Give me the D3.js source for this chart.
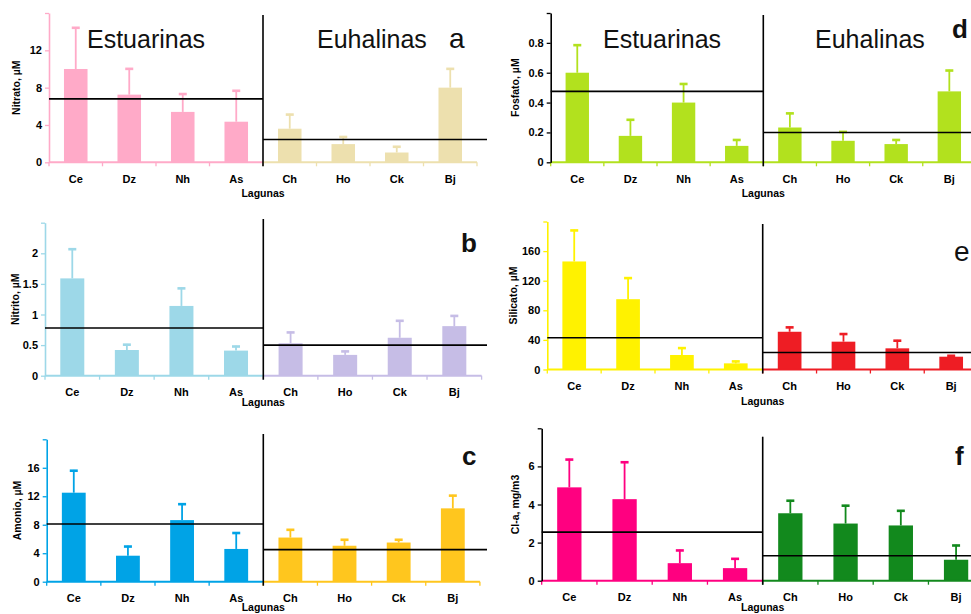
<!DOCTYPE html>
<html><head><meta charset="utf-8">
<script src="https://cdn.jsdelivr.net/npm/d3@7"></script>
<style>
body{margin:0;background:#fff}
svg{display:block}
text{font-family:"Liberation Sans",Arial,Helvetica,sans-serif}
</style>
</head><body>
<svg id="chart" width="971" height="614"></svg>
<script>
// ---------- DATA ----------
const lagunas = ["Ce","Dz","Nh","As","Ch","Ho","Ck","Bj"];
const grupos = ["Estuarinas","Euhalinas"];

const nitrato      = [10.0, 7.25, 5.4, 4.35, 3.6, 1.95, 1.05, 8.0];
const nitratoDE    = [4.5, 2.85, 2.0, 3.4, 1.6, 0.85, 0.7, 2.1];
const nitratoMedia = [6.8, 2.45];
const nitratoTicks = [0, 4, 8, 12, 16];

const nitrito      = [1.59, 0.42, 1.14, 0.41, 0.53, 0.34, 0.62, 0.81];
const nitritoDE    = [0.49, 0.10, 0.30, 0.08, 0.19, 0.07, 0.29, 0.18];
const nitritoMedia = [0.78, 0.5];
const nitritoTicks = [0, 0.5, 1, 1.5, 2, 2.5];

const amonio       = [12.5, 3.65, 8.65, 4.6, 6.2, 5.05, 5.5, 10.3];
const amonioDE     = [3.2, 1.4, 2.35, 2.35, 1.2, 0.95, 0.5, 1.9];
const amonioMedia  = [8.1, 4.5];
const amonioTicks  = [0, 4, 8, 12, 16, 20];

const fosfato      = [0.60, 0.177, 0.40, 0.11, 0.233, 0.144, 0.122, 0.475];
const fosfatoDE    = [0.19, 0.113, 0.13, 0.045, 0.10, 0.065, 0.033, 0.145];
const fosfatoMedia = [0.475, 0.2];
const fosfatoTicks = [0, 0.2, 0.4, 0.6, 0.8, 1];

const silicato      = [146, 95, 19.6, 8.3, 51, 37.6, 28.6, 17.3];
const silicatoDE    = [43, 29.6, 10.4, 3.7, 7, 11.4, 11.4, 2.3];
const silicatoMedia = [43, 23];
const silicatoTicks = [0, 40, 80, 120, 160, 200];

const cla      = [4.9, 4.28, 0.92, 0.66, 3.54, 3.0, 2.9, 1.1];
const claDE    = [1.5, 1.98, 0.71, 0.53, 0.70, 0.98, 0.81, 0.79];
const claMedia = [2.55, 1.31];
const claTicks = [0, 2, 4, 6, 8];

// ---------- PANELS (data refs + layout/style) ----------
const panels = [
  {letter:"a", ylab:"Nitrato, \u00b5M", v:nitrato, e:nitratoDE, m:nitratoMedia, t:nitratoTicks,
   c:["#ffaac8","#ede0ae"], axisC:"#ffaac8",
   x0:49, div:263, yTop:13, yBase:162.3, lineEnd:487, divTop:15, ylabX:16,
   titles:true, tEst:87, tEuh:317, letX:449, letY:48, letSize:28, letW:"normal", lagY:197},
  {letter:"b", ylab:"Nitrito, \u00b5M", v:nitrito, e:nitritoDE, m:nitritoMedia, t:nitritoTicks,
   c:["#9dd8e8","#c6bde6"], axisC:"#9dd8e8",
   x0:45, div:263.3, yTop:222.7, yBase:375.7, lineEnd:487, divTop:219, ylabX:15,
   titles:false, letX:461, letY:252, letSize:26, letW:"bold", lagY:406},
  {letter:"c", ylab:"Amonio, \u00b5M", v:amonio, e:amonioDE, m:amonioMedia, t:amonioTicks,
   c:["#00a3e6","#ffc61e"], axisC:"#00a3e6",
   x0:46.7, div:263.3, yTop:439.3, yBase:581.7, lineEnd:487, divTop:434, ylabX:17,
   titles:false, letX:462, letY:465, letSize:26, letW:"bold", lagY:611},
  {letter:"d", ylab:"Fosfato, \u00b5M", v:fosfato, e:fosfatoDE, m:fosfatoMedia, t:fosfatoTicks,
   c:["#b2e11e","#b2e11e"], axisC:"#000000",
   x0:550.7, div:763.3, yTop:13, yBase:162.3, lineEnd:975, divTop:15, ylabX:515,
   titles:true, tEst:603, tEuh:815, letX:952, letY:38, letSize:26, letW:"bold", lagY:197},
  {letter:"e", ylab:"Silicato, \u00b5M", v:silicato, e:silicatoDE, m:silicatoMedia, t:silicatoTicks,
   c:["#fff200","#ee1d24"], axisC:"#fff200",
   x0:547.3, div:762.7, yTop:221.5, yBase:369.5, lineEnd:975, divTop:224, ylabX:513,
   titles:false, letX:954, letY:261, letSize:28, letW:"normal", lagY:405},
  {letter:"f", ylab:"Cl-a, mg/m3", v:cla, e:claDE, m:claMedia, t:claTicks,
   c:["#ff0080","#12891d"], axisC:"#000000",
   x0:541.7, div:762.7, yTop:428.3, yBase:580.7, lineEnd:975, divTop:436.7, ylabX:515,
   titles:false, letX:955, letY:465, letSize:26, letW:"bold", lagY:611}
];

const svg = d3.select("#chart");

panels.forEach(p => {
  const g = svg.append("g");
  const step = (p.div - p.x0) / 4;
  const xEnd = p.x0 + step * lagunas.length;
  const x = d3.scaleBand().domain(lagunas).range([p.x0, xEnd])
              .paddingInner(0.56).paddingOuter(0.28);
  const yMax = p.t[p.t.length - 1];
  const y = d3.scaleLinear().domain([0, yMax]).range([p.yBase, p.yTop]);
  const col = i => i < 4 ? p.c[0] : p.c[1];

  // bars
  g.selectAll("rect.bar").data(p.v).join("rect")
    .attr("class","bar")
    .attr("x", (d,i) => x(lagunas[i]))
    .attr("width", x.bandwidth())
    .attr("y", d => y(d))
    .attr("height", d => y(0) - y(d))
    .attr("fill", (d,i) => col(i));

  // error bars
  const eb = g.selectAll("g.err").data(p.v).join("g").attr("class","err");
  eb.append("line")
    .attr("x1", (d,i) => x(lagunas[i]) + x.bandwidth()/2)
    .attr("x2", (d,i) => x(lagunas[i]) + x.bandwidth()/2)
    .attr("y1", d => y(d))
    .attr("y2", (d,i) => y(d + p.e[i]))
    .attr("stroke", (d,i) => col(i)).attr("stroke-width", 1.8);
  eb.append("rect")
    .attr("x", (d,i) => x(lagunas[i]) + x.bandwidth()/2 - 4)
    .attr("y", (d,i) => y(d + p.e[i]) - 0.5)
    .attr("width", 8).attr("height", 2.6)
    .attr("fill", (d,i) => col(i));

  // x baseline (two colours) + boundary ticks
  g.append("line").attr("x1", p.x0).attr("x2", p.div)
    .attr("y1", p.yBase).attr("y2", p.yBase)
    .attr("stroke", p.c[0]).attr("stroke-width", 2);
  g.append("line").attr("x1", p.div).attr("x2", xEnd)
    .attr("y1", p.yBase).attr("y2", p.yBase)
    .attr("stroke", p.c[1]).attr("stroke-width", 2);
  d3.range(lagunas.length + 1).forEach(i => {
    const xx = p.x0 + i * step;
    g.append("line").attr("x1", xx).attr("x2", xx)
      .attr("y1", p.yBase).attr("y2", p.yBase + 4)
      .attr("stroke", i < 4 ? p.c[0] : p.c[1]).attr("stroke-width", 1.3);
  });

  // x labels
  const xa = g.append("g").attr("transform", `translate(0,${p.yBase})`)
    .call(d3.axisBottom(x).tickSize(0).tickPadding(13));
  xa.select(".domain").remove();
  xa.selectAll("text").attr("font-size", 11).attr("font-weight","bold")
    .attr("fill","#000").attr("font-family","Liberation Sans, Arial, sans-serif");

  // y axis
  const ya = g.append("g").attr("transform", `translate(${p.x0},0)`)
    .call(d3.axisLeft(y).tickValues(p.t).tickSize(4).tickSizeOuter(0).tickPadding(3)
      .tickFormat(d => d === yMax ? "" : String(d)));
  ya.select(".domain").attr("stroke", p.axisC).attr("stroke-width", 1.6);
  ya.selectAll(".tick line").attr("stroke", p.axisC).attr("stroke-width", 1.3);
  ya.selectAll("text").attr("font-size", 11).attr("font-weight","bold")
    .attr("fill","#000").attr("font-family","Liberation Sans, Arial, sans-serif");

  // y label
  g.append("text")
    .attr("transform", `translate(${p.ylabX + 4},${(p.yTop + p.yBase)/2}) rotate(-90)`)
    .attr("text-anchor","middle").attr("font-size", 10.5).attr("font-weight","bold")
    .text(p.ylab);

  // "Lagunas"
  g.append("text").attr("x", p.div).attr("y", p.lagY)
    .attr("text-anchor","middle").attr("font-size", 10.5).attr("font-weight","bold")
    .text("Lagunas");

  // divider
  g.append("line").attr("x1", p.div).attr("x2", p.div)
    .attr("y1", p.divTop).attr("y2", p.yBase + 4)
    .attr("stroke","#000").attr("stroke-width", 1.6);

  // mean lines
  g.append("line").attr("x1", p.x0).attr("x2", p.div)
    .attr("y1", y(p.m[0])).attr("y2", y(p.m[0]))
    .attr("stroke","#000").attr("stroke-width", 1.6);
  g.append("line").attr("x1", p.div).attr("x2", p.lineEnd)
    .attr("y1", y(p.m[1])).attr("y2", y(p.m[1]))
    .attr("stroke","#000").attr("stroke-width", 1.6);

  // group titles
  if (p.titles) {
    g.append("text").attr("x", p.tEst).attr("y", 48).attr("font-size", 25).attr("fill","#111").text(grupos[0]);
    g.append("text").attr("x", p.tEuh).attr("y", 48).attr("font-size", 25).attr("fill","#111").text(grupos[1]);
  }
  // panel letter
  g.append("text").attr("x", p.letX).attr("y", p.letY)
    .attr("font-size", p.letSize).attr("font-weight", p.letW).attr("fill","#111").text(p.letter);
});
</script>
</body></html>
